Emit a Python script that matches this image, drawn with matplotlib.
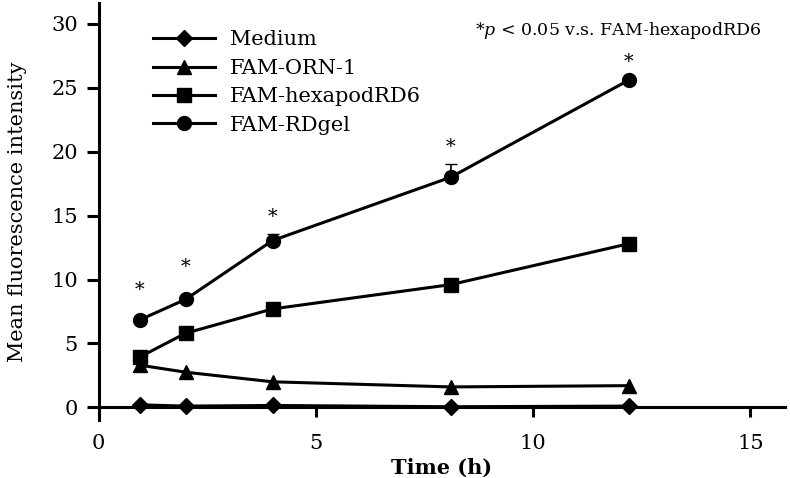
import matplotlib

matplotlib.use("Agg")
import matplotlib.pyplot as plt

plt.rcParams["font.family"] = ["DejaVu Serif"]
plt.rcParams["mathtext.fontset"] = "dejavuserif"

time_h = [0.95, 2, 4, 8.1, 12.2]
medium = [0.2, 0.1, 0.15, 0.05, 0.1]
orn1 = [3.3, 2.75, 2.0, 1.6, 1.7]
hexapod = [3.95, 5.8, 7.7, 9.6, 12.8]
rdgel = [6.85, 8.45, 13.05, 18.0, 25.6]
rdgel_err = [0.1, 0.15, 0.5, 1.0, 0.15]
star_y = [9.2, 10.95, 14.9, 20.4, 27.0]
series_names = ["Medium", "FAM-ORN-1", "FAM-hexapodRD6", "FAM-RDgel"]

fig = plt.figure(figsize=(7.9, 4.78), dpi=100)
ax = fig.add_axes([0.125, 0.121, 0.869, 0.872])

lw = 2.2
ax.plot(time_h, medium, "-D", color="black", lw=lw, ms=8, label=series_names[0])
ax.plot(time_h, orn1, "-^", color="black", lw=lw, ms=10, label=series_names[1])
ax.plot(time_h, hexapod, "-s", color="black", lw=lw, ms=10, label=series_names[2])
ax.errorbar(time_h, rdgel, yerr=[[0] * len(rdgel_err), rdgel_err], fmt="none", ecolor="black",
            capsize=4, elinewidth=1.2)
ax.plot(time_h, rdgel, "-o", color="black", lw=lw, ms=10, label=series_names[3])

for x, y in zip(time_h, star_y):
    ax.text(x, y, "*", ha="center", va="center", fontsize=14)

ax.text(0.966, 0.935, r"*$\it{p}$ < 0.05 v.s. FAM-hexapodRD6", transform=ax.transAxes,
        ha="right", va="center", fontsize=12.5)

ax.set_xlim(0, 15.8)
ax.set_ylim(-1, 31.6)
ax.set_xticks([0, 5, 10, 15])
ax.set_yticks([0, 5, 10, 15, 20, 25, 30])
ax.spines["top"].set_visible(False)
ax.spines["right"].set_visible(False)
ax.spines["bottom"].set_position(("data", 0))
for s in ("left", "bottom"):
    ax.spines[s].set_linewidth(2.2)
ax.tick_params(axis="y", width=2.2, length=9, labelsize=15, direction="out", pad=6)
ax.tick_params(axis="x", width=2.2, length=7, labelsize=15, direction="out", pad=12)

ax.set_xlabel("Time (h)", fontsize=15, fontweight="bold")
ax.set_ylabel("Mean fluorescence intensity", fontsize=15)
ax.xaxis.set_label_coords(0.5, -0.09)
ax.yaxis.set_label_coords(-0.105, 0.5)

ax.legend(loc="upper left", bbox_to_anchor=(0.079, 0.935), frameon=False, fontsize=15,
          handlelength=3.0, handletextpad=0.7, labelspacing=0.45, borderaxespad=0, borderpad=0)

fig.savefig("out.png", dpi=100)
